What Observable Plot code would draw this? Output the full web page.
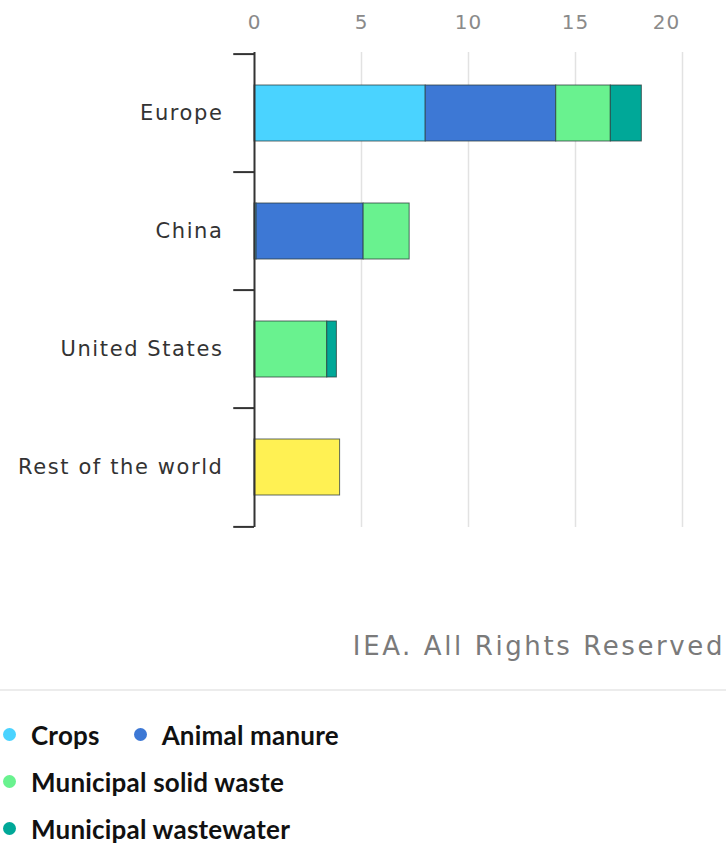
<!DOCTYPE html>
<html>
<head>
<meta charset="utf-8">
<script src="https://cdn.jsdelivr.net/npm/d3@7"></script>
<script src="https://cdn.jsdelivr.net/npm/@observablehq/plot@0.6"></script>
<style>
  html, body { margin: 0; padding: 0; background: #fff; width: 726px; overflow: hidden; }
  body { font-family: "DejaVu Sans", sans-serif; }
  #chart svg { display: block; }
  .caption { position: absolute; top: 631px; right: 1px; font-size: 26px; color: #7a7a7a; letter-spacing: 2.6px; font-family: "DejaVu Sans", sans-serif; }
  .rule { position: absolute; top: 689px; left: 0; width: 726px; height: 2px; background: #ececec; }
  .legend { position: absolute; top: 711px; left: 0; font-size: 26px; font-weight: 700; color: #111; font-family: Lato, sans-serif; letter-spacing: 0.2px; }
  .row { height: 47px; display: flex; align-items: center; }
  .item { display: inline-flex; align-items: center; margin-right: 31px; }
  .dot { width: 13px; height: 13px; border-radius: 50%; display: inline-block; margin-left: 3px; margin-right: 15px; }
</style>
</head>
<body>
<div id="chart"></div>
<div class="caption">IEA. All Rights Reserved</div>
<div class="rule"></div>
<div class="legend" id="legend"></div>
<script>
const regions = ["Europe", "China", "United States", "Rest of the world"];
const series = ["Crops", "Animal manure", "Municipal solid waste", "Municipal wastewater", "Rest of the world"];
const colors = ["#4ad3ff", "#3d78d5", "#69f28f", "#00a898", "#fff153"];
const crops      = [8.0, 0.1, 0, 0];
const manure     = [6.1, 5.0, 0, 0];
const msw        = [2.55, 2.15, 3.4, 0];
const wastewater = [1.45, 0, 0.45, 0];
const other      = [0, 0, 0, 4.0];
const xTicks = [0, 5, 10, 15, 20];
const legendRows = [["Crops", "Animal manure"], ["Municipal solid waste"], ["Municipal wastewater"]];

const valuesBySeries = [crops, manure, msw, wastewater, other];
const data = [];
series.forEach((s, i) => regions.forEach((r, j) => {
  if (valuesBySeries[i][j] > 0) data.push({region: r, series: s, value: valuesBySeries[i][j]});
}));

const font = "'DejaVu Sans', sans-serif";
const chart = Plot.plot({
  width: 726,
  height: 560,
  marginLeft: 254,
  marginRight: 44,
  marginTop: 52,
  marginBottom: 33,
  style: {fontFamily: font, background: "#fff"},
  x: {domain: [0, 20], label: null},
  y: {domain: regions, padding: 0, label: null},
  color: {domain: series, range: colors},
  marks: [
    Plot.gridX(xTicks.slice(1), {stroke: "#e2e2e2", strokeOpacity: 1, strokeWidth: 1.5}),
    Plot.axisX({anchor: "top", ticks: xTicks.slice(0, -1), tickSize: 0, tickPadding: 24, fontSize: 20, fill: "#8a8a8a", label: null, tickFormat: d => String(d)}),
    Plot.axisX({anchor: "top", ticks: xTicks.slice(-1), tickSize: 0, tickPadding: 24, fontSize: 20, fill: "#8a8a8a", label: null, dx: -16, tickFormat: d => String(d)}),
    Plot.barX(data, Plot.stackX({
      y: "region", x: "value", fill: "series", order: series,
      stroke: "#2a3a3a", strokeOpacity: 0.75, strokeWidth: 1,
      insetTop: 31, insetBottom: 31
    })),
    Plot.ruleY(regions, {y: d => d, x1: -0.97, x2: 0, dy: -59.4, stroke: "#333", strokeWidth: 2}),
    Plot.ruleY(regions.slice(-1), {y: d => d, x1: -0.97, x2: 0, dy: 59.4, stroke: "#333", strokeWidth: 2}),
    Plot.ruleX([0], {stroke: "#333", strokeWidth: 2}),
    Plot.axisY({tickSize: 0, tickPadding: 31, fontSize: 21, fill: "#333", label: null})
  ]
});
// widen glyph spacing to match the reference's stretched lettering
chart.querySelectorAll("g[aria-label='y-axis tick label'] text").forEach(t => t.setAttribute("letter-spacing", "1.6"));
chart.querySelectorAll("g[aria-label='x-axis tick label'] text").forEach(t => t.setAttribute("letter-spacing", "1"));
document.getElementById("chart").appendChild(chart);

const legend = document.getElementById("legend");
legendRows.forEach(row => {
  const div = document.createElement("div");
  div.className = "row";
  row.forEach(name => {
    const item = document.createElement("span");
    item.className = "item";
    const dot = document.createElement("span");
    dot.className = "dot";
    dot.style.background = colors[series.indexOf(name)];
    item.appendChild(dot);
    item.appendChild(document.createTextNode(name));
    div.appendChild(item);
  });
  legend.appendChild(div);
});
</script>
</body>
</html>
